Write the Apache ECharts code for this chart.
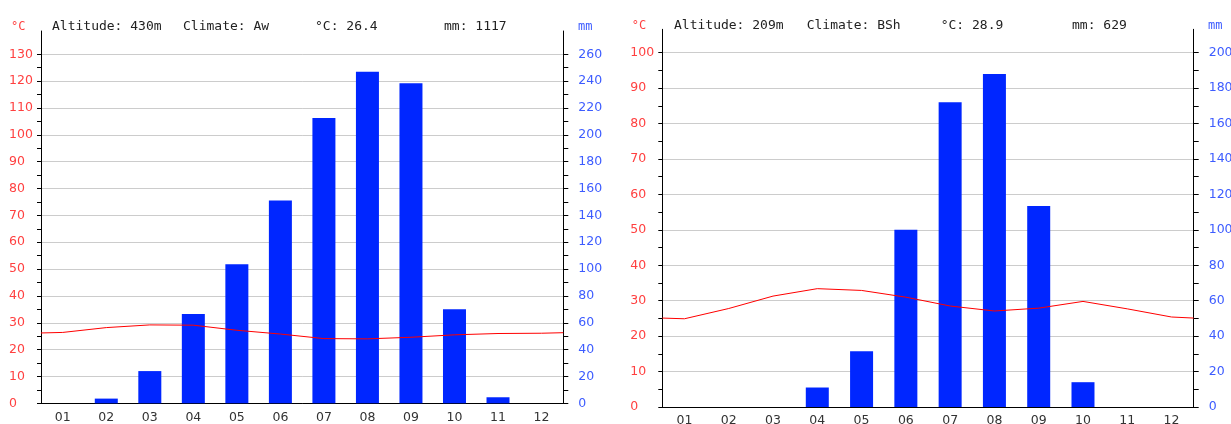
<!DOCTYPE html>
<html>
<head>
<meta charset="utf-8">
<title>Climate charts</title>
<script src="https://cdn.jsdelivr.net/npm/echarts@6/dist/echarts.min.js"></script>
<style>
  html, body { margin: 0; padding: 0; background: #fff; }
  #chart { width: 1231px; height: 424px; }
</style>
</head>
<body>
<div id="chart"></div>
<script>
  const months = ['01', '02', '03', '04', '05', '06', '07', '08', '09', '10', '11', '12'];

  // left station
  const leftRain = [0, 3.5, 24, 66.5, 103.5, 151, 212.5, 247, 238.5, 70, 4.5, 0];
  const leftTemp = [26.4, 28.2, 29.2, 29.1, 27.2, 25.8, 24.1, 24.0, 24.6, 25.5, 26.0, 26.1];
  const leftTempEdge = [26.2, 26.3];  // line value where it meets the left / right axis
  const leftInfo = ['Altitude: 430m', 'Climate: Aw', '°C: 26.4', 'mm: 1117'];
  const leftTempMax = 130;
  const leftRainMax = 260;

  // right station
  const rightRain = [0, 0, 0, 11, 31.5, 100, 172, 188, 113.5, 14, 0, 0];
  const rightTemp = [24.9, 27.8, 31.3, 33.4, 32.9, 31.0, 28.5, 27.1, 27.9, 29.8, 27.7, 25.4];
  const rightTempEdge = [25.1, 25.1];
  const rightInfo = ['Altitude: 209m', 'Climate: BSh', '°C: 28.9', 'mm: 629'];
  const rightTempMax = 100;
  const rightRainMax = 200;

  const tempInterval = 10;
  const rainInterval = 20;

  const RED = '#ff4040';
  const BLUE = '#3d5cff';
  const BAR = '#0026ff';
  const LABEL_FONT = 'DejaVu Sans';
  const MONO = 'DejaVu Sans Mono';

  const panels = [
    {
      rain: leftRain, temp: leftTemp, edge: leftTempEdge, info: leftInfo,
      tempMax: leftTempMax, rainMax: leftRainMax,
      x0: 41, x1: 563.3, top: 54.3, zero: 403.3, axisTop: 31,
      textY: 27, textX: [52, 183, 315, 444], unitC: 11, unitMm: 578
    },
    {
      rain: rightRain, temp: rightTemp, edge: rightTempEdge, info: rightInfo,
      tempMax: rightTempMax, rainMax: rightRainMax,
      x0: 662.3, x1: 1193.7, top: 52.7, zero: 407, axisTop: 29.3,
      textY: 25.5, textX: [674, 806.7, 940.7, 1072], unitC: 631.7, unitMm: 1208
    }
  ];

  function linePoints(temp, edge) {
    let pts = [[0, edge[0]]];
    temp.forEach(function (t, i) { pts.push([i + 0.5, t]); });
    pts.push([months.length, edge[1]]);
    return pts;
  }

  let grid = [], xAxis = [], yAxis = [], series = [], graphic = [];

  panels.forEach(function (p, k) {
    let g = k * 2;        // main grid
    let ext = g + 1;      // taller grid, only carries the axis lines
    let w = p.x1 - p.x0;

    grid.push({ left: p.x0, top: p.top, width: w, height: p.zero - p.top, outerBoundsMode: 'none' });
    grid.push({ left: p.x0, top: p.axisTop, width: w, height: p.zero - p.axisTop, outerBoundsMode: 'none' });

    let xi = xAxis.length;
    xAxis.push({
      gridIndex: g, type: 'category', data: months, boundaryGap: true,
      axisLine: { lineStyle: { color: '#000', width: 1 } },
      axisTick: { length: 4, lineStyle: { color: '#000' } },
      axisLabel: { interval: 0, margin: 7.5, color: '#333', fontSize: 12.5, fontFamily: LABEL_FONT },
      splitLine: { show: false }
    });
    xAxis.push({ gridIndex: g, type: 'value', min: 0, max: months.length, show: false });
    xAxis.push({ gridIndex: ext, type: 'value', min: 0, max: 1, show: false });

    let yi = yAxis.length;
    yAxis.push({
      gridIndex: g, type: 'value', position: 'left', min: 0, max: p.tempMax, interval: tempInterval,
      axisLine: { show: false },
      axisTick: { show: true, length: 4, lineStyle: { color: '#000' } },
      minorTick: { show: true, splitNumber: 2, length: 4, lineStyle: { color: '#000' } },
      axisLabel: { align: 'left', margin: 32, color: RED, fontSize: 12.5, fontFamily: LABEL_FONT },
      splitLine: { show: true, lineStyle: { color: '#cccccc', width: 1 } }
    });
    yAxis.push({
      gridIndex: g, type: 'value', position: 'right', min: 0, max: p.rainMax, interval: rainInterval,
      axisLine: { show: false },
      axisTick: { show: true, length: 5, lineStyle: { color: '#000' } },
      minorTick: { show: true, splitNumber: 2, length: 5, lineStyle: { color: '#000' } },
      axisLabel: { margin: 15, color: BLUE, fontSize: 12.5, fontFamily: LABEL_FONT },
      splitLine: { show: false }
    });
    ['left', 'right'].forEach(function (pos) {
      yAxis.push({
        gridIndex: ext, type: 'value', position: pos, min: 0, max: 1,
        axisLine: { show: true, lineStyle: { color: '#000', width: 1 } },
        axisTick: { show: false }, axisLabel: { show: false }, splitLine: { show: false }
      });
    });

    series.push({
      type: 'bar', xAxisIndex: xi, yAxisIndex: yi + 1,
      data: p.rain, barWidth: 23,
      itemStyle: { color: BAR },
      silent: true, z: 2
    });
    series.push({
      type: 'line', xAxisIndex: xi + 1, yAxisIndex: yi,
      data: linePoints(p.temp, p.edge),
      symbol: 'none', smooth: false,
      lineStyle: { color: '#ff0000', width: 1 },
      silent: true, z: 3
    });

    // header texts
    p.info.forEach(function (t, i) {
      graphic.push({
        type: 'text', x: p.textX[i], y: p.textY,
        style: { text: t, fill: '#222', font: '13px "' + MONO + '"', verticalAlign: 'middle' }
      });
    });
    graphic.push({
      type: 'text', x: p.unitC, y: p.textY,
      style: { text: '°C', fill: RED, font: '12px "' + MONO + '"', verticalAlign: 'middle' }
    });
    graphic.push({
      type: 'text', x: p.unitMm, y: p.textY,
      style: { text: 'mm', fill: BLUE, font: '12px "' + MONO + '"', verticalAlign: 'middle' }
    });
  });

  let myChart = echarts.init(document.getElementById('chart'));
  myChart.setOption({
    animation: false,
    backgroundColor: '#fff',
    grid: grid,
    xAxis: xAxis,
    yAxis: yAxis,
    series: series,
    graphic: graphic
  });
  window.addEventListener('resize', function () {
    myChart.resize();
  });
</script>
</body>
</html>
